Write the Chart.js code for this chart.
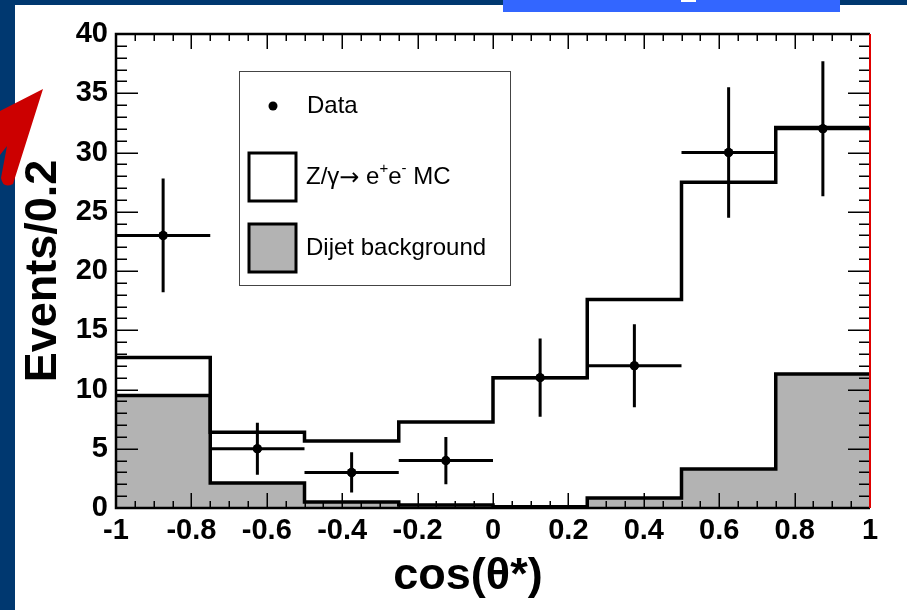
<!DOCTYPE html>
<html>
<head>
<meta charset="utf-8">
<script src="https://cdn.jsdelivr.net/npm/chart.js@4.4.1/dist/chart.umd.min.js"></script>
<style>
html,body{margin:0;padding:0;background:#003870;}
canvas{display:block;}
</style>
</head>
<body>
<canvas id="c" width="907" height="610"></canvas>
<script>
// ---- data ----
const binEdges    = [-1, -0.75, -0.5, -0.25, 0, 0.25, 0.5, 0.75, 1];
const binCenters  = [-0.875, -0.625, -0.375, -0.125, 0.125, 0.375, 0.625, 0.875];
const dataValues  = [23, 5, 3, 4, 11, 12, 30, 32];
const dataErrors  = [4.8, 2.2, 1.7, 2.0, 3.3, 3.5, 5.5, 5.7];
const mcValues    = [12.7, 6.4, 5.65, 7.25, 11.0, 17.6, 27.5, 32.1];
const dijetValues = [9.5, 2.1, 0.5, 0.25, 0.1, 0.85, 3.3, 11.3];
const xTickLabels = ['-1', '-0.8', '-0.6', '-0.4', '-0.2', '0', '0.2', '0.4', '0.6', '0.8', '1'];
const yTickLabels = ['0', '5', '10', '15', '20', '25', '30', '35', '40'];
const seriesLabels = ['Data', 'Z/γ→ e⁺e⁻ MC', 'Dijet background'];
// [text, kind] kind: 0 normal, 1 superscript, 2 arrow glyph
const mcLabelParts = [['Z/γ', 0], ['→', 2], [' e', 0], ['+', 1], ['e', 0], ['-', 1], [' MC', 0]];
const xTitle = 'cos(θ*)';
const yTitle = 'Events/0.2';

// step-histogram points built from bin edges
function stepPoints(values) {
  const pts = values.map((v, i) => ({x: binEdges[i], y: v}));
  pts.push({x: binEdges[binEdges.length - 1], y: values[values.length - 1]});
  return pts;
}

const FONT = '"Liberation Sans", Arial, Helvetica, sans-serif';

const bgPlugin = {
  id: 'bg',
  beforeDraw(chart) {
    const c = chart.ctx;
    c.save();
    c.fillStyle = '#003870';
    c.fillRect(0, 0, chart.width, chart.height);
    c.fillStyle = '#ffffff';
    c.fillRect(15, 5, chart.width - 15, chart.height - 5);
    c.fillStyle = '#3366ff';
    c.fillRect(503, 0, 337, 12);
    c.fillStyle = '#ffffff';
    c.fillRect(681, 0, 15, 2);
    c.restore();
  }
};

const framePlugin = {
  id: 'frame',
  afterDatasetsDraw(chart) {
    const {ctx, chartArea: a, scales: {x, y}} = chart;
    ctx.save();
    ctx.strokeStyle = '#000';
    ctx.lineWidth = 1.5;
    ctx.beginPath();
    for (let i = 0; i <= 40; i++) {
      const px = Math.round(x.getPixelForValue(-1 + i * 0.05)) + 0.25;
      const L = (i % 4 === 0) ? 15 : 7;
      ctx.moveTo(px, a.bottom); ctx.lineTo(px, a.bottom - L);
      ctx.moveTo(px, a.top); ctx.lineTo(px, a.top + L);
    }
    for (let j = 0; j <= 40; j++) {
      const py = Math.round(y.getPixelForValue(j)) + 0.25;
      const L = (j % 5 === 0) ? 22 : 11;
      ctx.moveTo(a.left, py); ctx.lineTo(a.left + L, py);
      ctx.moveTo(a.right, py); ctx.lineTo(a.right - L, py);
    }
    ctx.stroke();
    ctx.lineWidth = 2.5;
    ctx.beginPath();
    ctx.moveTo(a.right, a.top); ctx.lineTo(a.left, a.top);
    ctx.lineTo(a.left, a.bottom); ctx.lineTo(a.right, a.bottom);
    ctx.stroke();
    ctx.strokeStyle = '#e00000';
    ctx.lineWidth = 2;
    ctx.beginPath();
    ctx.moveTo(a.right, a.top); ctx.lineTo(a.right, a.bottom);
    ctx.stroke();
    ctx.restore();
  }
};

const errPlugin = {
  id: 'errbars',
  afterDatasetsDraw(chart) {
    const {ctx, scales: {x, y}} = chart;
    ctx.save();
    ctx.strokeStyle = '#000';
    ctx.lineWidth = 3;
    ctx.beginPath();
    for (let i = 0; i < dataValues.length; i++) {
      const cx = x.getPixelForValue(binCenters[i]);
      const cy = y.getPixelForValue(dataValues[i]);
      ctx.moveTo(x.getPixelForValue(binEdges[i]), cy);
      ctx.lineTo(x.getPixelForValue(binEdges[i + 1]), cy);
      ctx.moveTo(cx, y.getPixelForValue(dataValues[i] + dataErrors[i]));
      ctx.lineTo(cx, y.getPixelForValue(dataValues[i] - dataErrors[i]));
    }
    ctx.stroke();
    ctx.fillStyle = '#000';
    for (let i = 0; i < dataValues.length; i++) {
      ctx.beginPath();
      ctx.arc(x.getPixelForValue(binCenters[i]), y.getPixelForValue(dataValues[i]), 4.5, 0, Math.PI * 2);
      ctx.fill();
    }
    ctx.restore();
  }
};

const legendPlugin = {
  id: 'rootLegend',
  afterDraw(chart) {
    const ctx = chart.ctx;
    const ds = chart.data.datasets;
    ctx.save();
    ctx.strokeStyle = '#444';
    ctx.lineWidth = 1;
    ctx.strokeRect(239.5, 71.5, 271, 214);
    ctx.font = '24px ' + FONT;
    ctx.textBaseline = 'middle';
    ctx.textAlign = 'left';
    // Data
    ctx.fillStyle = '#000';
    ctx.beginPath(); ctx.arc(273, 106, 4.5, 0, Math.PI * 2); ctx.fill();
    ctx.fillText(ds[0].label, 307, 106);
    // MC
    ctx.lineWidth = 3;
    ctx.strokeStyle = '#000';
    ctx.fillStyle = ds[1].backgroundColor;
    ctx.fillRect(249, 153, 47, 48);
    ctx.strokeRect(249, 153, 47, 48);
    ctx.fillStyle = '#000';
    let tx = 306;
    for (const [txt, kind] of mcLabelParts) {
      if (kind === 1) {
        ctx.font = '15px ' + FONT;
        ctx.fillText(txt, tx, 169);
      } else if (kind === 2) {
        ctx.font = '24px "DejaVu Sans", ' + FONT;
        ctx.fillText(txt, tx, 179);
      } else {
        ctx.font = '24px ' + FONT;
        ctx.fillText(txt, tx, 177);
      }
      tx += ctx.measureText(txt).width;
    }
    // Dijet
    ctx.font = '24px ' + FONT;
    ctx.fillStyle = ds[2].backgroundColor;
    ctx.fillRect(249, 224, 47, 48);
    ctx.strokeRect(249, 224, 47, 48);
    ctx.fillStyle = '#000';
    ctx.fillText(ds[2].label, 306, 248);
    ctx.restore();
  }
};

const arrowPlugin = {
  id: 'arrow',
  afterDraw(chart) {
    const ctx = chart.ctx;
    ctx.save();
    ctx.fillStyle = '#cc0000';
    ctx.beginPath();
    ctx.moveTo(43, 89);
    ctx.lineTo(-4, 113);
    ctx.lineTo(-4, 160);
    ctx.lineTo(7, 146);
    ctx.lineTo(1, 178);
    ctx.quadraticCurveTo(3, 189, 13, 184);
    ctx.closePath();
    ctx.fill();
    ctx.restore();
  }
};

new Chart(document.getElementById('c'), {
  type: 'scatter',
  data: {
    datasets: [
      {
        type: 'scatter',
        label: seriesLabels[0],
        data: binCenters.map((x, i) => ({x: x, y: dataValues[i]})),
        pointRadius: 4.5,
        pointBackgroundColor: '#000',
        pointBorderWidth: 0,
        showLine: false
      },
      {
        type: 'line',
        label: seriesLabels[1],
        data: stepPoints(mcValues),
        stepped: 'before',
        borderColor: '#000',
        backgroundColor: '#ffffff',
        borderWidth: 3.5,
        pointRadius: 0,
        fill: false
      },
      {
        type: 'line',
        label: seriesLabels[2],
        data: stepPoints(dijetValues),
        stepped: 'before',
        borderColor: '#000',
        backgroundColor: '#b3b3b3',
        borderWidth: 3.5,
        pointRadius: 0,
        fill: 'origin'
      }
    ]
  },
  options: {
    responsive: false,
    devicePixelRatio: 1,
    animation: false,
    layout: {padding: {left: 0, right: 37, top: 34, bottom: 0}},
    plugins: {legend: {display: false}, tooltip: {enabled: false}},
    scales: {
      x: {
        type: 'linear',
        min: -1, max: 1,
        grid: {display: false, drawTicks: false, tickLength: 0},
        border: {display: false},
        ticks: {
          stepSize: 0.2,
          autoSkip: false,
          maxRotation: 0,
          padding: 6,
          color: '#000',
          font: {family: FONT, size: 29, weight: 'bold'},
          callback: (v) => xTickLabels[Math.round((v + 1) * 5)]
        },
        title: {
          display: true,
          text: xTitle + '    ',
          color: '#000',
          font: {family: FONT, size: 45, weight: 'bold'},
          padding: {top: 0, bottom: 6}
        },
        afterFit: (s) => { s.height = 102; }
      },
      y: {
        type: 'linear',
        min: 0, max: 40,
        grid: {display: false, drawTicks: false, tickLength: 0},
        border: {display: false},
        ticks: {
          stepSize: 5,
          padding: 8,
          color: '#000',
          font: {family: FONT, size: 29, weight: 'bold'},
          callback: (v) => yTickLabels[Math.round(v / 5)]
        },
        title: {
          display: true,
          text: yTitle,
          color: '#000',
          font: {family: FONT, size: 45, weight: 'bold'},
          padding: {top: 17, bottom: 0}
        },
        afterFit: (s) => { s.width = 116; }
      }
    }
  },
  plugins: [bgPlugin, framePlugin, errPlugin, legendPlugin, arrowPlugin]
});
</script>
</body>
</html>
